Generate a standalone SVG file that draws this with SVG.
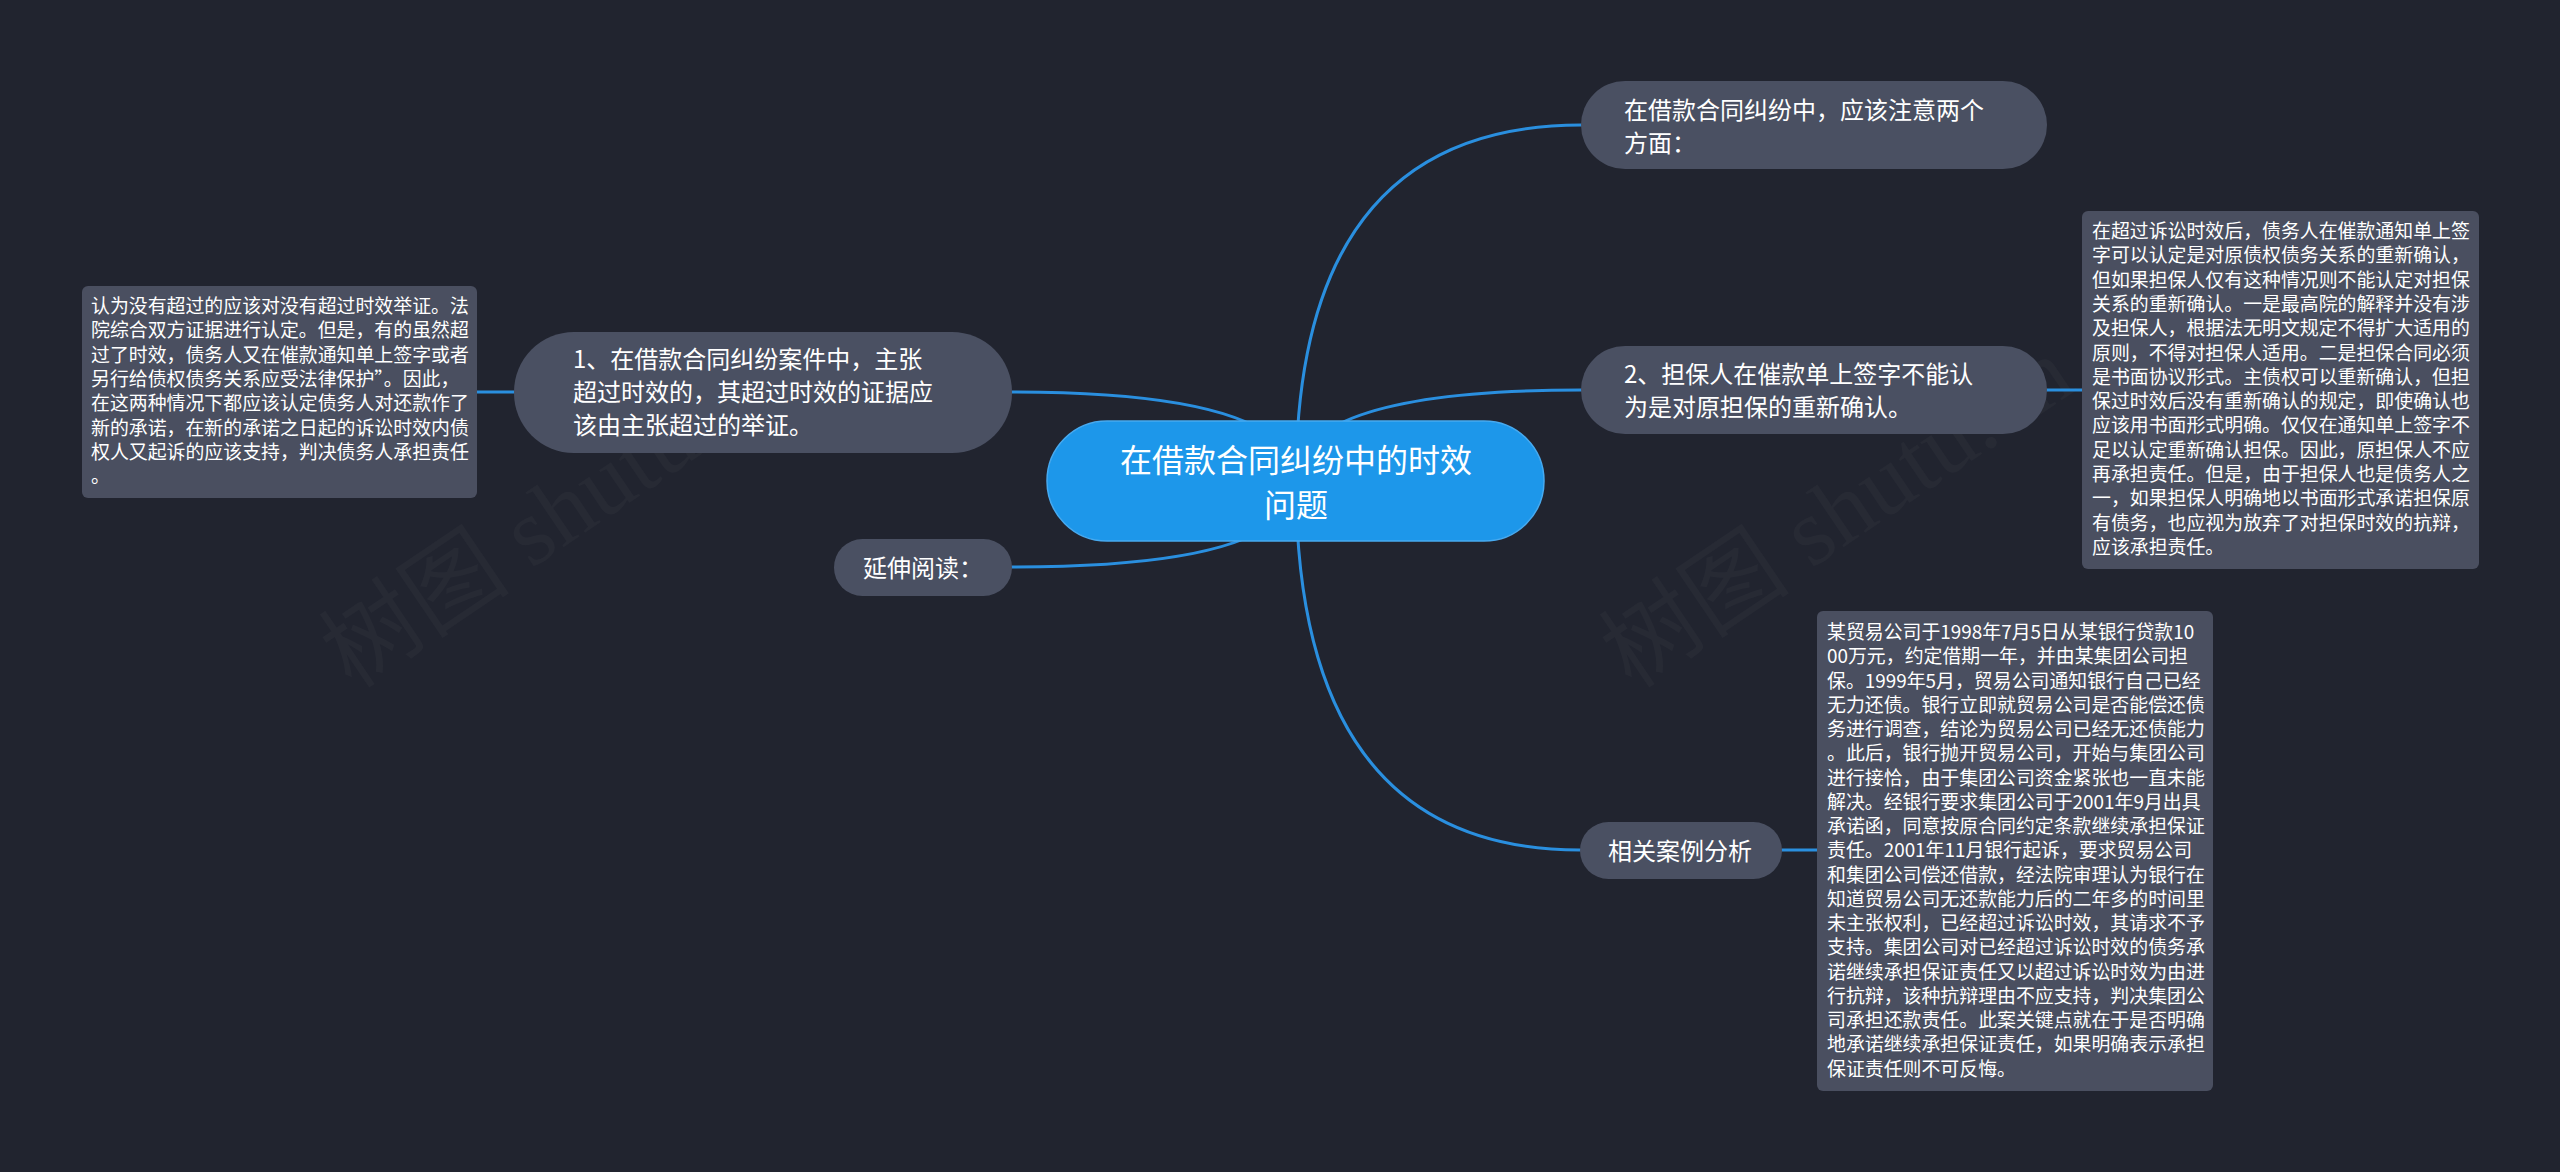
<svg xmlns="http://www.w3.org/2000/svg" width="2560" height="1172" viewBox="0 0 2560 1172">
<defs>
<style>
.bg{fill:#21242f}
.wm{font-family:"Liberation Serif","Noto Sans CJK SC",serif;font-size:96px;fill:#ffffff;fill-opacity:0.028}
.conn{fill:none;stroke:#2a8fdf;stroke-width:3;stroke-linecap:round}
.node{fill:#4a5062}
.box{fill:#4a4f60}
.root{fill:#1d97ea;stroke:#47aaf0;stroke-width:1.5}
.t{font-family:"Noto Sans CJK SC","Noto Sans",sans-serif;fill:#ffffff}
.tn{font-size:24px}
.tr{font-size:32px}
.tb{font-size:18.9px}
</style>
</defs>
<rect class="bg" x="0" y="0" width="2560" height="1172"/>
<g id="watermarks">
<text class="wm" transform="translate(352,690) rotate(-34)">树图 shutu.cn</text>
<text class="wm" transform="translate(1632,690) rotate(-34)">树图 shutu.cn</text>
</g>
<g id="connectors">
<path class="conn" d="M1296,481 Q1296,125 1581,125"/>
<path class="conn" d="M1296,481 Q1296,390 1581,390"/>
<path class="conn" d="M1296,481 Q1296,850 1580,850"/>
<path class="conn" d="M1296,481 Q1296,392 1012,392"/>
<path class="conn" d="M1296,481 Q1296,567 1012,567"/>
<path class="conn" d="M514,392 L477,392"/>
<path class="conn" d="M2047,390 L2082,390"/>
<path class="conn" d="M1782,850 L1817,850"/>
</g>
<g id="root">
<rect class="root" x="1047" y="421" width="497" height="120" rx="60"/>
<text class="t tr" text-anchor="middle" x="1296" y="472">在借款合同纠纷中的时效</text>
<text class="t tr" text-anchor="middle" x="1296" y="517">问题</text>
</g>
<g id="node-top">
<rect class="node" x="1581" y="81" width="466" height="88" rx="44"/>
<text class="t tn" x="1624" y="119">在借款合同纠纷中，应该注意两个</text>
<text class="t tn" x="1624" y="152">方面：</text>
</g>
<g id="node-2">
<rect class="node" x="1581" y="346" width="466" height="88" rx="44"/>
<text class="t tn" x="1624" y="383">2、担保人在催款单上签字不能认</text>
<text class="t tn" x="1624" y="416">为是对原担保的重新确认。</text>
</g>
<g id="box-2">
<rect class="box" x="2082" y="211" width="397" height="358" rx="6"/>
<text class="t tb" x="2092" y="238">在超过诉讼时效后，债务人在催款通知单上签</text>
<text class="t tb" x="2092" y="262.3">字可以认定是对原债权债务关系的重新确认，</text>
<text class="t tb" x="2092" y="286.6">但如果担保人仅有这种情况则不能认定对担保</text>
<text class="t tb" x="2092" y="310.9">关系的重新确认。一是最高院的解释并没有涉</text>
<text class="t tb" x="2092" y="335.2">及担保人，根据法无明文规定不得扩大适用的</text>
<text class="t tb" x="2092" y="359.5">原则，不得对担保人适用。二是担保合同必须</text>
<text class="t tb" x="2092" y="383.8">是书面协议形式。主债权可以重新确认，但担</text>
<text class="t tb" x="2092" y="408.1">保过时效后没有重新确认的规定，即使确认也</text>
<text class="t tb" x="2092" y="432.4">应该用书面形式明确。仅仅在通知单上签字不</text>
<text class="t tb" x="2092" y="456.7">足以认定重新确认担保。因此，原担保人不应</text>
<text class="t tb" x="2092" y="481">再承担责任。但是，由于担保人也是债务人之</text>
<text class="t tb" x="2092" y="505.3">一，如果担保人明确地以书面形式承诺担保原</text>
<text class="t tb" x="2092" y="529.6">有债务，也应视为放弃了对担保时效的抗辩，</text>
<text class="t tb" x="2092" y="553.9">应该承担责任。</text>
</g>
<g id="node-1">
<rect class="node" x="514" y="332" width="498" height="121" rx="60"/>
<text class="t tn" x="573" y="368">1、在借款合同纠纷案件中，主张</text>
<text class="t tn" x="573" y="401">超过时效的，其超过时效的证据应</text>
<text class="t tn" x="573" y="434">该由主张超过的举证。</text>
</g>
<g id="box-1">
<rect class="box" x="82" y="286" width="395" height="212" rx="6"/>
<text class="t tb" x="91" y="313">认为没有超过的应该对没有超过时效举证。法</text>
<text class="t tb" x="91" y="337.3">院综合双方证据进行认定。但是，有的虽然超</text>
<text class="t tb" x="91" y="361.6">过了时效，债务人又在催款通知单上签字或者</text>
<text class="t tb" x="91" y="385.9">另行给债权债务关系应受法律保护”。因此，</text>
<text class="t tb" x="91" y="410.2">在这两种情况下都应该认定债务人对还款作了</text>
<text class="t tb" x="91" y="434.5">新的承诺，在新的承诺之日起的诉讼时效内债</text>
<text class="t tb" x="91" y="458.8">权人又起诉的应该支持，判决债务人承担责任</text>
<text class="t tb" x="91" y="483.1">。</text>
</g>
<g id="node-read">
<rect class="node" x="834" y="539" width="178" height="57" rx="28.5"/>
<text class="t tn" x="863" y="577">延伸阅读：</text>
</g>
<g id="node-case">
<rect class="node" x="1580" y="822" width="202" height="57" rx="28.5"/>
<text class="t tn" x="1608" y="860">相关案例分析</text>
</g>
<g id="box-case">
<rect class="box" x="1817" y="611" width="396" height="480" rx="6"/>
<text class="t tb" x="1827" y="639">某贸易公司于1998年7月5日从某银行贷款10</text>
<text class="t tb" x="1827" y="663.25">00万元，约定借期一年，并由某集团公司担</text>
<text class="t tb" x="1827" y="687.5">保。1999年5月，贸易公司通知银行自己已经</text>
<text class="t tb" x="1827" y="711.75">无力还债。银行立即就贸易公司是否能偿还债</text>
<text class="t tb" x="1827" y="736">务进行调查，结论为贸易公司已经无还债能力</text>
<text class="t tb" x="1827" y="760.25">。此后，银行抛开贸易公司，开始与集团公司</text>
<text class="t tb" x="1827" y="784.5">进行接恰，由于集团公司资金紧张也一直未能</text>
<text class="t tb" x="1827" y="808.75">解决。经银行要求集团公司于2001年9月出具</text>
<text class="t tb" x="1827" y="833">承诺函，同意按原合同约定条款继续承担保证</text>
<text class="t tb" x="1827" y="857.25">责任。2001年11月银行起诉，要求贸易公司</text>
<text class="t tb" x="1827" y="881.5">和集团公司偿还借款，经法院审理认为银行在</text>
<text class="t tb" x="1827" y="905.75">知道贸易公司无还款能力后的二年多的时间里</text>
<text class="t tb" x="1827" y="930">未主张权利，已经超过诉讼时效，其请求不予</text>
<text class="t tb" x="1827" y="954.25">支持。集团公司对已经超过诉讼时效的债务承</text>
<text class="t tb" x="1827" y="978.5">诺继续承担保证责任又以超过诉讼时效为由进</text>
<text class="t tb" x="1827" y="1002.75">行抗辩，该种抗辩理由不应支持，判决集团公</text>
<text class="t tb" x="1827" y="1027">司承担还款责任。此案关键点就在于是否明确</text>
<text class="t tb" x="1827" y="1051.25">地承诺继续承担保证责任，如果明确表示承担</text>
<text class="t tb" x="1827" y="1075.5">保证责任则不可反悔。</text>
</g>
</svg>
